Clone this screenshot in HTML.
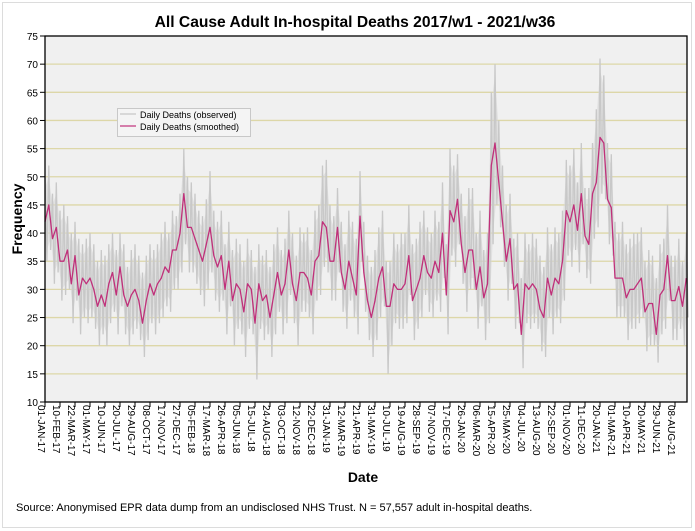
<!DOCTYPE html>
<html><head><meta charset="utf-8"><style>
body{margin:0;background:#fff;}
svg{display:block;font-family:"Liberation Sans",Arial,sans-serif;}
</style></head><body>
<svg id="chart" width="695" height="531" viewBox="0 0 695 531">
<rect x="2.5" y="2.5" width="689" height="525" fill="#fff" stroke="#dcdcdc"/>
<text x="355" y="27" text-anchor="middle" font-size="15.6" font-weight="bold">All Cause Adult In-hospital Deaths 2017/w1 - 2021/w36</text>
<rect x="45" y="36" width="642" height="366" fill="#f0f0f0"/>
<g id="grid"></g>
<g id="obs"></g>
<g id="smooth"></g>
<rect x="45" y="36" width="642" height="366" fill="none" stroke="#000" stroke-width="1.3"/>
<g id="yaxis"></g>
<g id="xaxis"></g>
<text transform="translate(22,219) rotate(-90)" text-anchor="middle" font-size="14" font-weight="bold">Frequency</text>
<text x="363" y="482" text-anchor="middle" font-size="14" font-weight="bold">Date</text>
<text x="16" y="511" font-size="11">Source: Anonymised EPR data dump from an undisclosed NHS Trust. N = 57,557 adult in-hospital deaths.</text>
<g>
<rect x="117.5" y="108.5" width="133" height="28" fill="#f4f4f4" stroke="#c8c8c8"/>
<line x1="120" y1="114" x2="136" y2="114" stroke="#d8d8d8" stroke-width="2"/>
<text x="140" y="118" font-size="9">Daily Deaths (observed)</text>
<line x1="120" y1="126" x2="136" y2="126" stroke="#c0307a" stroke-width="1.2"/>
<text x="140" y="130" font-size="9">Daily Deaths (smoothed)</text>
</g>
</svg>
<script>
const yTicks=[10,15,20,25,30,35,40,45,50,55,60,65,70,75];
const xTickLabels=["01-JAN-17","10-FEB-17","22-MAR-17","01-MAY-17","10-JUN-17","20-JUL-17","29-AUG-17","08-OCT-17","17-NOV-17","27-DEC-17","05-FEB-18","17-MAR-18","26-APR-18","05-JUN-18","15-JUL-18","24-AUG-18","03-OCT-18","12-NOV-18","22-DEC-18","31-JAN-19","12-MAR-19","21-APR-19","31-MAY-19","10-JUL-19","19-AUG-19","28-SEP-19","07-NOV-19","17-DEC-19","26-JAN-20","06-MAR-20","15-APR-20","25-MAY-20","04-JUL-20","13-AUG-20","22-SEP-20","01-NOV-20","11-DEC-20","20-JAN-21","01-MAR-21","10-APR-21","20-MAY-21","29-JUN-21","08-AUG-21"];
const tickStepDays=40;
const sampleStepDays=10;
const smoothed=[42,45,39,41,35,35,37,31,36,29,
32,31,32,30,27,29,27,31,33,29,
34,29,27,29,30,28,24,28,31,29,
31,32,34,33,37,37,40,47,41,41,
39,37,35,38,41,36,34,36,30,35,
28,31,30,26,31,30,24,31,
28,29,25,29,33,29,31,37,31,28,33,33,32,29,35,36,42,41,35,35,41,33,30,35,32,29,43,33,28,25,28,32,34,27,27,31,30,30,31,36,28,30,32,36,33,32,35,33,40,29,44,42,46,38,33,37,
37,30,34,28.5,31,52,56,49,42,35,39,30,31,22,31,30,31,30,26.5,25,32,29,32,31,35,44,42,45,40.5,47,39.5,38,47,49,57,56,46,44.5,32,32,32,28.5,30,30,31,32,26,27.5,27.5,22,29,30,36,28,28,30.5,27,32];
const observedHigh=[50,52,47,49,44,45,43,40,42,39,
38,39,40,38,35,37,36,38,40,37,
40,38,34,37,38,36,33,36,38,37,
38,40,42,40,44,43,47,55,50,49,
47,44,43,46,51,44,42,44,38,42,
37,39,38,35,39,37,34,38,
36,37,34,38,41,37,39,44,40,36,41,40,41,37,44,45,52,53,45,43,48,42,38,44,42,39,51,42,36,34,37,41,44,35,35,40,38,40,40,45,38,39,42,44,41,40,44,42,49,38,55,52,54,47,43,48,
48,40,44,37,40,65,70,60,52,45,47,39,40,32,40,38,40,39,36,34,41,38,41,40,44,53,52,55,49,56,48,48,56,62,71,68,56,54,42,40,42,38,39,40,40,41,35,37,36,32,38,39,45,36,36,39,35,40];
const observedLow=[35,37,31,33,28,29,30,24,28,22,
25,24,25,23,20,22,20,24,26,22,
27,22,20,22,23,21,18,21,24,22,
24,25,27,26,30,30,33,38,33,33,
31,29,27,30,33,28,26,28,22,27,
20,23,22,18,23,22,14,23,
21,22,18,22,26,22,24,29,24,20,26,26,25,22,28,29,34,33,28,28,33,26,23,28,25,22,35,26,21,18,21,25,27,15,20,24,23,23,24,29,21,23,25,29,26,25,28,26,32,22,36,34,38,31,26,30,
30,23,27,21,24,38,45,41,34,28,31,23,24,16,24,23,24,23,19,18,25,22,25,24,28,36,34,37,33,38,32,31,39,41,47,46,38,36,25,25,25,21,23,23,24,25,19,20,20,17,22,23,28,21,21,23,20,25];

const NS="http://www.w3.org/2000/svg";
const X0=45,X1=687,Y0=402,Y1=36,PXDAY=0.375;
const xS=d=>X0+d*PXDAY;
const yS=v=>Y0-(v-10)*(Y0-Y1)/65;
function mk(tag,attrs,parent){const e=document.createElementNS(NS,tag);for(const k in attrs)e.setAttribute(k,attrs[k]);parent.appendChild(e);return e;}
const grid=document.getElementById('grid'),yax=document.getElementById('yaxis'),xax=document.getElementById('xaxis');
yTicks.forEach(v=>{
  if(v>10&&v<75){const g=mk('line',{x1:X0,x2:X1,y1:yS(v),y2:yS(v),stroke:'#ddd7a8','stroke-width':1.3},grid);
  
  }
  const t=mk('line',{x1:X0-5,x2:X0,y1:yS(v),y2:yS(v),stroke:'#000'},yax);
  
  
  const l=mk('text',{x:X0-7,y:yS(v)+4,'text-anchor':'end','font-size':10},yax);
  l.textContent=v;
  
  
});
xTickLabels.forEach((s,i)=>{
  const x=xS(i*tickStepDays);
  const t=mk('line',{x1:x,x2:x,y1:Y0,y2:Y0+5,stroke:'#000'},xax);
  
  
  const l=mk('text',{transform:`translate(${x-7},${Y0+3}) rotate(90)`,'font-size':10},xax);
  l.textContent=s;
  
  
});
const obsG=document.getElementById('obs');
let band='';
observedHigh.forEach((v,i)=>{band+=(i?'L':'M')+xS(i*sampleStepDays).toFixed(1)+','+yS(v-2).toFixed(1);});
for(let i=observedLow.length-1;i>=0;i--){band+='L'+xS(i*sampleStepDays+5).toFixed(1)+','+yS(observedLow[i]+2).toFixed(1);}
band+='Z';
const b=mk('path',{d:band,fill:'#d6d6d6','fill-opacity':0.55,stroke:'none'},obsG);


let po='';
observedHigh.forEach((v,i)=>{const d=i*sampleStepDays;po+=(i?'L':'M')+xS(d).toFixed(1)+','+yS(v).toFixed(1)+'L'+xS(d+5).toFixed(1)+','+yS(observedLow[i]).toFixed(1);});
const o=mk('path',{d:po,fill:'none',stroke:'#c8c8c8','stroke-width':1.3},obsG);


let ps='';
smoothed.forEach((v,i)=>{ps+=(i?'L':'M')+xS(i*sampleStepDays).toFixed(1)+','+yS(v).toFixed(1);});
const sm=mk('path',{d:ps,fill:'none',stroke:'#c0307a','stroke-width':1.3,'stroke-linejoin':'round'},document.getElementById('smooth'));


</script>
</body></html>
